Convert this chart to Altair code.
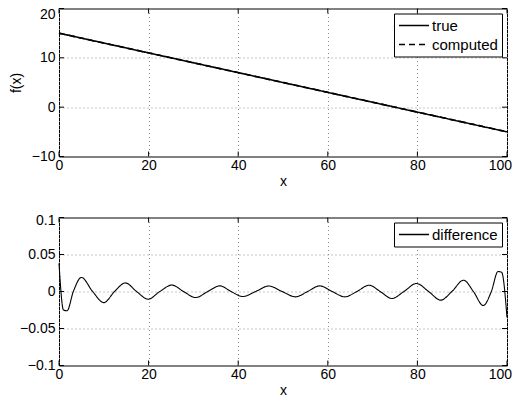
import altair as alt
import pandas as pd

# ---- data ----
x_line = [0, 25, 50, 75, 100]
f_true = [15, 10, 5, 0, -5]
f_computed = [15, 10, 5, 0, -5]

diff_x = [0, 1.0, 1.8, 3.2, 5.0, 7.5, 10.0, 12.4, 14.8, 17.3, 19.9, 22.5, 25.2, 27.8,
          30.5, 33.2, 35.9, 38.4, 41.0, 43.9, 46.8, 49.8, 52.8, 55.5, 58.2, 61.0,
          63.8, 66.5, 69.2, 71.7, 74.3, 77.0, 79.8, 82.5, 85.2, 87.7, 90.3, 92.5,
          94.7, 96.5, 98.0, 98.8, 100]
diff_y = [0.038, -0.025, -0.026, 0, 0.019, 0, -0.015, 0, 0.0116, 0, -0.0104, 0, 0.0087, 0,
          -0.0082, 0, 0.0076, 0, -0.0068, 0, 0.0074, 0, -0.0072, 0, 0.0076, 0,
          -0.0072, 0, 0.0085, 0, -0.0095, 0, 0.0108, 0, -0.0117, 0, 0.0153, 0,
          -0.019, 0, 0.027, 0.026, -0.035]

x_ticks = [0, 20, 40, 60, 80, 100]
y_ticks_top = [-10, 0, 10, 20]
y_ticks_bot = [-0.1, -0.05, 0, 0.05, 0.1]

series_top = ["true", "computed"]
series_bot = ["difference"]

W, H = 448, 148
FONT = "Liberation Sans"
TICK = 5

top_df = pd.DataFrame({
    "x": x_line + x_line,
    "f": f_true + f_computed,
    "series": [series_top[0]] * len(x_line) + [series_top[1]] * len(x_line),
})
bot_df = pd.DataFrame({"x": diff_x, "f": diff_y, "series": series_bot[0]})


def legend():
    return alt.Legend(title=None, orient="top-right", offset=5, symbolType="stroke",
                      symbolSize=900, symbolStrokeWidth=1.5, symbolStrokeColor="black",
                      labelOffset=2, padding=4, rowPadding=3, clipHeight=16,
                      strokeColor="black", fillColor="white", labelFontSize=15,
                      labelFont=FONT, labelColor="black")


def panel(df, ydomain, yticks, ytitle, top_val, top_off, yfmt, dashes_names, dashes, lw):
    xs = alt.Scale(domain=[0, 100], nice=False, zero=False)
    ys = alt.Scale(domain=ydomain, nice=False, zero=False)
    last_x = x_ticks[-1]
    xaxis = alt.Axis(values=x_ticks, title="x", grid=True, ticks=False, labelFlush=False,
                     labelOverlap=False, domain=False, labelPadding=2, titlePadding=2,
                     format="d",
                     labelAlign={"condition": {"test": f"datum.value == {last_x}",
                                               "value": "right"}, "value": "center"},
                     labelOffset={"condition": {"test": f"datum.value == {last_x}",
                                                "value": 4.5}, "value": 0})
    ykw = dict(values=yticks, grid=True, ticks=False, domain=False, labelPadding=4,
               labelFlush=False, labelOverlap=False,
               titlePadding=8, title=ytitle if ytitle else None,
               labelOffset={"condition": {"test": f"datum.value == {top_val}",
                                          "value": top_off}, "value": 0})
    if yfmt:
        ykw["format"] = yfmt
    yaxis = alt.Axis(**ykw)
    lines = alt.Chart(df).mark_line(color="black", interpolate="monotone",
                                    strokeWidth=lw).encode(
        x=alt.X("x:Q", scale=xs, axis=xaxis),
        y=alt.Y("f:Q", scale=ys, axis=yaxis),
        strokeDash=alt.StrokeDash("series:N",
                                  scale=alt.Scale(domain=dashes_names, range=dashes),
                                  legend=legend()),
    )
    xt = pd.DataFrame({"x": x_ticks})
    yt = pd.DataFrame({"f": yticks})
    xtop = alt.Chart(xt).mark_rule(color="black").encode(
        x=alt.X("x:Q", scale=xs, axis=xaxis), y=alt.value(0), y2=alt.value(TICK))
    xbot = alt.Chart(xt).mark_rule(color="black").encode(
        x=alt.X("x:Q", scale=xs, axis=xaxis), y=alt.value(H), y2=alt.value(H - TICK))
    yl = alt.Chart(yt).mark_rule(color="black").encode(
        y=alt.Y("f:Q", scale=ys, axis=yaxis), x=alt.value(0), x2=alt.value(TICK))
    yr = alt.Chart(yt).mark_rule(color="black").encode(
        y=alt.Y("f:Q", scale=ys, axis=yaxis), x=alt.value(W), x2=alt.value(W - TICK))
    return alt.layer(lines, xtop, xbot, yl, yr).properties(width=W, height=H)


top = panel(top_df, [-10, 20], y_ticks_top, "f(x)", 20, 5.5, None, series_top,
            [[1, 0], [6, 4]], 1.6)
bot = panel(bot_df, [-0.1, 0.1], y_ticks_bot, None, 0.1, 3, "~r", series_bot,
            [[1, 0]], 1.1)

chart = alt.vconcat(top, bot, spacing=23).resolve_scale(
    x="independent", y="independent", strokeDash="independent"
).resolve_legend(strokeDash="independent").properties(
    padding={"left": 0, "top": -1.5, "right": 0, "bottom": -2},
    background="white",
).configure_view(stroke="black", strokeWidth=1).configure_axis(
    labelFont=FONT, titleFont=FONT, labelFontSize=14, titleFontSize=14,
    titleFontWeight="normal", labelColor="black", titleColor="black",
    gridColor="#8c8c8c", gridDash=[1, 3], gridOpacity=1, gridWidth=1,
)

chart.save("out.html", embed_options={"renderer": "svg", "actions": False})
